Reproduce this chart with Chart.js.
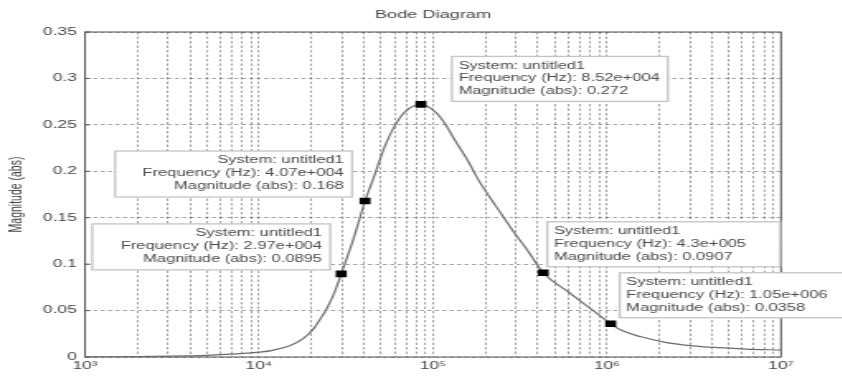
<!DOCTYPE html>
<html>
<head>
<meta charset="utf-8">
<script src="https://cdn.jsdelivr.net/npm/chart.js@4"></script>
<style>
  html, body { margin: 0; padding: 0; background: #fff; overflow: hidden; }
  #wrap { width: 842px; height: 376px; position: relative; overflow: hidden; }
  /* the original figure was stretched sideways, so is this one */
  #bode { position: absolute; left: 0; top: 0; transform: scaleX(1.65); transform-origin: 0 0; }
</style>
</head>
<body>
<div id="wrap"><canvas id="bode" width="510" height="376"></canvas></div>
<script>
// magnitude curve
const freqHz = [1e3, 2e3, 3e3, 5e3, 7e3, 1e4, 1.2e4, 1.5e4, 1.8e4, 2.05e4, 2.25e4, 2.45e4, 2.65e4, 2.8e4,
  2.97e4, 3.5e4, 4.07e4, 4.6e4, 5.25e4, 6.1e4, 7.0e4, 8.52e4, 1.03e5, 1.17e5, 1.33e5, 1.59e5, 1.82e5,
  2.12e5, 2.47e5, 2.95e5, 3.52e5, 4.3e5, 6.0e5, 7.8e5, 1.05e6, 1.2e6, 1.55e6, 2.2e6, 3.1e6, 4.4e6, 6.3e6, 1e7];
const magAbs = [0.0002, 0.0005, 0.0009, 0.0018, 0.003, 0.0052, 0.0072, 0.012, 0.020, 0.030, 0.041, 0.052, 0.065, 0.076,
  0.0895, 0.128, 0.168, 0.195, 0.2255, 0.2505, 0.265, 0.272, 0.264, 0.2515, 0.234, 0.211, 0.191,
  0.172, 0.154, 0.133, 0.114, 0.0907, 0.070, 0.054, 0.0358, 0.029, 0.022, 0.0155, 0.012, 0.010, 0.0085, 0.0075];

// data tips
const tipFreq = [2.97e4, 4.07e4, 8.52e4, 4.3e5, 1.05e6];
const tipMag = [0.0895, 0.168, 0.272, 0.0907, 0.0358];

const xTicks = [1e3, 1e4, 1e5, 1e6, 1e7];
const xTickLabels = ['10³', '10⁴', '10⁵', '10⁶', '10⁷'];
const yTicks = [0, 0.05, 0.1, 0.15, 0.2, 0.25, 0.3, 0.35];
const yTickLabels = ['0', '0.05', '0.1', '0.15', '0.2', '0.25', '0.3', '0.35'];

const SX = 1.65;
// tip boxes in screen px, relative to the marker
const tipBoxes = [
  { dx: -249, dy: -50, w: 238, h: 46, align: 'right' },
  { dx: -250, dy: -50, w: 237, h: 46, align: 'right' },
  { dx: 31, dy: -48, w: 216, h: 45, align: 'left' },
  { dx: 4, dy: -51, w: 233, h: 45, align: 'left' },
  { dx: 9, dy: -51, w: 235, h: 45, align: 'left' }
];

// log grid: every 1..9 x 10^n
const gridFreqs = [];
for (let e = 3; e < 7; e++) for (let m = 1; m < 10; m++) gridFreqs.push(m * 10 ** e);
gridFreqs.push(1e7);

const FONT = '"Liberation Sans", Arial, sans-serif';
Chart.defaults.font.family = FONT;

function matlabNum(v) {
  if (v >= 1e4) {
    let [m, e] = v.toExponential(2).split('e');
    m = m.replace(/\.?0+$/, '');
    return m + 'e' + (+e < 0 ? '-' : '+') + String(Math.abs(+e)).padStart(3, '0');
  }
  return String(+v.toPrecision(3));
}

const bodeDecor = {
  id: 'bodeDecor',
  beforeDraw(chart) {
    const ctx = chart.ctx;
    ctx.save();
    ctx.fillStyle = '#fff';
    ctx.fillRect(0, 0, chart.width, chart.height);
    ctx.restore();
  },
  beforeDatasetsDraw(chart) {
    const { ctx, chartArea: a, scales: { x, y } } = chart;
    ctx.save();
    // axes box
    ctx.strokeStyle = '#555';
    ctx.lineWidth = 1;
    ctx.strokeRect(a.left, a.top, a.right - a.left, a.bottom - a.top);
    yTicks.forEach(v => {
      const py = y.getPixelForValue(v);
      ctx.beginPath();
      ctx.moveTo(a.left, py); ctx.lineTo(a.left + 3, py);
      ctx.stroke();
    });
    // title
    ctx.fillStyle = '#444';
    ctx.font = '11px ' + FONT;
    ctx.textAlign = 'center';
    ctx.textBaseline = 'middle';
    ctx.fillText('Bode Diagram', (a.left + a.right) / 2, 15);
    // data tips
    ctx.font = '10px ' + FONT;
    tipFreq.forEach((f, i) => {
      const b = tipBoxes[i];
      const px = x.getPixelForValue(f), py = y.getPixelForValue(tipMag[i]);
      const left = px + b.dx / SX, top = py + b.dy, w = b.w / SX;
      ctx.fillStyle = '#fff';
      ctx.fillRect(left, top, w, b.h);
      ctx.strokeStyle = '#c4c4c4';
      ctx.lineWidth = 1.3;
      ctx.strokeRect(left, top, w, b.h);
      const lines = ['System: untitled1', 'Frequency (Hz): ' + matlabNum(f), 'Magnitude (abs): ' + matlabNum(tipMag[i])];
      ctx.fillStyle = '#4a4a4a';
      ctx.textAlign = b.align;
      const tx = b.align === 'right' ? left + w - 5 : left + 4;
      lines.forEach((t, k) => ctx.fillText(t, tx, top + 9.5 + k * 12.8));
    });
    ctx.restore();
  }
};

new Chart(document.getElementById('bode'), {
  type: 'scatter',
  data: {
    datasets: [
      {
        data: freqHz.map((f, i) => ({ x: f, y: magAbs[i] })),
        showLine: true,
        pointRadius: 0,
        borderColor: '#6c6c6c',
        borderWidth: 1.2,
        cubicInterpolationMode: 'monotone',
        order: 2
      },
      {
        data: tipFreq.map((f, i) => ({ x: f, y: tipMag[i] })),
        pointStyle: 'rect',
        pointRadius: 4.7,
        backgroundColor: '#000',
        borderColor: '#000',
        borderWidth: 0,
        order: 1
      }
    ]
  },
  options: {
    responsive: false,
    animation: false,
    devicePixelRatio: 1,
    layout: { padding: { top: 32, right: 510 - 781 / SX, left: 0, bottom: 0 } },
    plugins: { legend: { display: false }, tooltip: { enabled: false }, title: { display: false } },
    scales: {
      x: {
        type: 'logarithmic',
        min: 1e3,
        max: 1e7,
        afterBuildTicks: s => { s.ticks = gridFreqs.map(v => ({ value: v })); },
        afterFit: s => { s.height = 19; },
        grid: { color: 'rgba(0,0,0,0.36)', drawTicks: false, lineWidth: 1 },
        border: { display: false, dash: [2.5, 2] },
        ticks: {
          autoSkip: false,
          maxRotation: 0,
          padding: 3,
          color: '#444',
          font: { size: 10.5 },
          callback: v => { const k = xTicks.indexOf(v); return k < 0 ? '' : xTickLabels[k]; }
        }
      },
      y: {
        min: 0,
        max: 0.35,
        afterBuildTicks: s => { s.ticks = yTicks.map(v => ({ value: v })); },
        afterFit: s => { s.width = 85 / SX; },
        grid: { color: 'rgba(0,0,0,0.36)', drawTicks: false, lineWidth: 1 },
        border: { display: false, dash: [2.5, 2] },
        ticks: {
          padding: 5,
          color: '#444',
          font: { size: 10.5 },
          callback: (v, i) => yTickLabels[i]
        },
        title: {
          display: true,
          text: 'Magnitude (abs)',
          color: '#444',
          font: { size: 10.5 },
          padding: { top: 4, bottom: 0 }
        }
      }
    }
  },
  plugins: [bodeDecor]
});
</script>
</body>
</html>
